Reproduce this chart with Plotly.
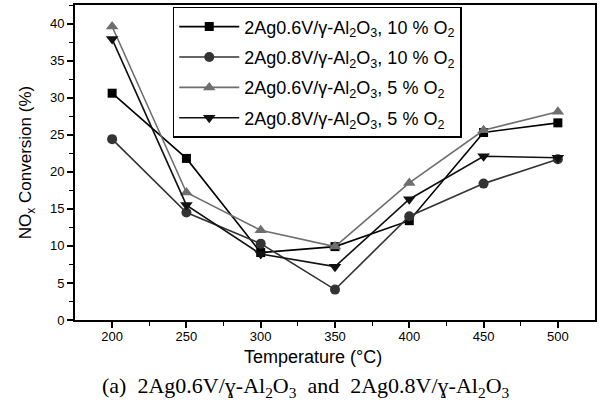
import plotly.graph_objects as go

temps = [200, 250, 300, 350, 400, 450, 500]
ag06_10 = [30.6, 21.8, 9.1, 9.9, 13.4, 25.3, 26.6]
ag08_10 = [24.4, 14.5, 10.3, 4.1, 14.0, 18.4, 21.7]
ag06_5 = [39.6, 17.2, 12.1, 9.9, 18.5, 25.6, 28.1]
ag08_5 = [37.9, 15.5, 8.9, 7.2, 16.3, 22.1, 21.9]

names = [
    "2Ag0.6V/γ-Al<sub>2</sub>O<sub>3</sub>, 10 % O<sub>2</sub>",
    "2Ag0.8V/γ-Al<sub>2</sub>O<sub>3</sub>, 10 % O<sub>2</sub>",
    "2Ag0.6V/γ-Al<sub>2</sub>O<sub>3</sub>, 5 % O<sub>2</sub>",
    "2Ag0.8V/γ-Al<sub>2</sub>O<sub>3</sub>, 5 % O<sub>2</sub>",
]
series = [ag06_10, ag08_10, ag06_5, ag08_5]
colors = ["#000000", "#333333", "#6e6e6e", "#111111"]
symbols = ["square", "circle", "triangle-up", "triangle-down"]
sizes = [9, 10, 11, 11]

fig = go.Figure()
for i, (n, s, c, sym, sz) in enumerate(zip(names, series, colors, symbols, sizes)):
    fig.add_trace(go.Scatter(
        x=temps, y=s, name=n, mode="lines+markers", legendgroup=f"g{i}",
        line=dict(color=c, width=1.6),
        marker=dict(symbol=sym, size=sz, color=c),
    ))

axis_font = dict(family="Liberation Sans, Arial, sans-serif", size=13, color="black")

fig.update_layout(
    width=600, height=414,
    margin=dict(l=75, r=3, t=5, b=94),
    paper_bgcolor="white", plot_bgcolor="white",
    font=dict(family="Liberation Sans, Arial, sans-serif", color="black"),
    showlegend=True,
    legend=dict(
        x=0.188, y=0.994, xanchor="left", yanchor="top",
        bordercolor="black", borderwidth=1.5, bgcolor="white",
        font=dict(size=18, family="Liberation Sans, Arial, sans-serif"),
        tracegroupgap=4, itemwidth=60,
    ),
    xaxis=dict(
        range=[175, 525], tickmode="array", tickvals=temps,
        ticks="outside", ticklen=6, tickwidth=1.5, tickcolor="black",
        showline=True, linecolor="black", linewidth=2, mirror=True,
        showgrid=False, zeroline=False, tickfont=axis_font,
        ticklabelstandoff=-3,
        minor=dict(tickvals=[225, 275, 325, 375, 425, 475], ticks="outside",
                   ticklen=4, tickwidth=1.2, tickcolor="black"),
    ),
    yaxis=dict(
        range=[0, 42.5], tickmode="array", tickvals=[0, 5, 10, 15, 20, 25, 30, 35, 40],
        ticks="outside", ticklen=6, tickwidth=1.5, tickcolor="black",
        showline=True, linecolor="black", linewidth=2, mirror=True,
        showgrid=False, zeroline=False, tickfont=axis_font,
        minor=dict(tickvals=[2.5, 7.5, 12.5, 17.5, 22.5, 27.5, 32.5, 37.5, 42.5], ticks="outside",
                   ticklen=4, tickwidth=1.2, tickcolor="black"),
        title=dict(text="NO<sub>x</sub> Conversion (%)", font=dict(size=17), standoff=14),
    ),
)

fig.add_annotation(
    text="Temperature (°C)", xref="paper", yref="paper",
    x=(314 - 75) / 522, y=-(357 - 320) / 315, xanchor="center", yanchor="middle",
    showarrow=False, font=dict(size=18, family="Liberation Sans, Arial, sans-serif"),
)
fig.add_annotation(
    text="(a)  2Ag0.6V/ɣ-Al<sub>2</sub>O<sub>3</sub>  and  2Ag0.8V/ɣ-Al<sub>2</sub>O<sub>3</sub>",
    xref="paper", yref="paper",
    x=(307 - 75) / 522, y=-(387 - 320) / 315, xanchor="center", yanchor="middle",
    showarrow=False, font=dict(size=22, family="Liberation Serif, Times New Roman, serif"),
)

fig.write_html("out.html")
